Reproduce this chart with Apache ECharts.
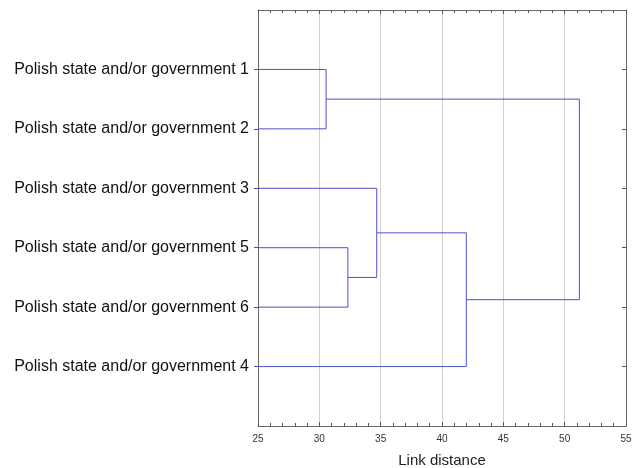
<!DOCTYPE html>
<html>
<head>
<meta charset="utf-8">
<script src="https://cdn.jsdelivr.net/npm/echarts@6/dist/echarts.min.js"></script>
<style>
html,body{margin:0;padding:0;background:#fff;}
#paint{width:638px;height:468px;}
</style>
</head>
<body>
<div id="paint"></div>
<script>
// leaves in the order they are drawn, top to bottom
var leaves = ['Polish state and/or government 1', 'Polish state and/or government 2',
    'Polish state and/or government 3', 'Polish state and/or government 5',
    'Polish state and/or government 6', 'Polish state and/or government 4'];
// merge steps: [child a, child b, link distance]; ids >= 6 are earlier merges
var mergeA = [0, 3, 2, 8, 6];
var mergeB = [1, 4, 7, 5, 9];
var mergeDist = [30.55, 32.33, 34.68, 41.98, 51.2];
var xTicks = [25, 30, 35, 40, 45, 50, 55];

var xMin = 25;
var n = leaves.length;
var nodeX = [], nodeY = [];
for (var i = 0; i < n; i++) {
    nodeX.push(xMin);
    nodeY.push(i + 1);
}
var series = [];
for (var k = 0; k < mergeDist.length; k++) {
    var a = mergeA[k], b = mergeB[k], h = mergeDist[k];
    series.push({
        type: 'line',
        symbol: 'none',
        silent: true,
        animation: false,
        xAxisIndex: 0,
        yAxisIndex: 0,
        lineStyle: {color: '#4f4fcf', width: 1},
        data: [[nodeX[a], nodeY[a]], [h, nodeY[a]], [h, nodeY[b]], [nodeX[b], nodeY[b]]]
    });
    nodeX.push(h);
    nodeY.push((nodeY[a] + nodeY[b]) / 2);
}

var chart = echarts.init(document.getElementById('paint'));
var axisLine = {show: true, onZero: false, lineStyle: {color: '#666', width: 1}};
var option = {
    backgroundColor: '#fff',
    grid: {left: 258, right: 12, top: 10, bottom: 42, outerBoundsMode: 'none', containLabel: false},
    xAxis: [{
        type: 'value',
        min: xTicks[0],
        max: xTicks[xTicks.length - 1],
        interval: 5,
        position: 'bottom',
        name: 'Link distance',
        nameLocation: 'middle',
        nameGap: 27,
        nameTextStyle: {fontFamily: 'Liberation Sans', fontSize: 15, color: '#222'},
        axisLine: axisLine,
        axisTick: {show: true, inside: true, length: 4, lineStyle: {color: '#555'}},
        minorTick: {show: true, splitNumber: 5, length: 3, lineStyle: {color: '#555'}},
        axisLabel: {fontFamily: 'Liberation Sans', fontSize: 10, color: '#333', margin: 8},
        splitLine: {show: true, lineStyle: {color: '#d0d0d0', width: 1}}
    }, {
        type: 'value',
        min: xTicks[0],
        max: xTicks[xTicks.length - 1],
        interval: 5,
        position: 'top',
        axisLine: axisLine,
        axisTick: {show: true, inside: true, length: 4, lineStyle: {color: '#555'}},
        minorTick: {show: true, splitNumber: 5, length: 3, lineStyle: {color: '#555'}},
        axisLabel: {show: false},
        splitLine: {show: false}
    }],
    yAxis: [{
        type: 'value',
        min: 0,
        max: n + 1,
        interval: 1,
        inverse: true,
        position: 'left',
        axisLine: axisLine,
        axisTick: {show: true, length: 4, lineStyle: {color: '#555'},
            customValues: [1, 2, 3, 4, 5, 6]},
        axisLabel: {
            fontFamily: 'Liberation Sans', fontSize: 16, color: '#111', margin: 9,
            formatter: function (v) {
                return (v >= 1 && v <= n) ? leaves[v - 1] : '';
            }
        },
        splitLine: {show: false}
    }, {
        type: 'value',
        min: 0,
        max: n + 1,
        interval: 1,
        inverse: true,
        position: 'right',
        axisLine: axisLine,
        axisTick: {show: true, inside: true, length: 4, lineStyle: {color: '#555'},
            customValues: [1, 2, 3, 4, 5, 6]},
        axisLabel: {show: false},
        splitLine: {show: false}
    }],
    series: series
};
chart.setOption(option);
</script>
</body>
</html>
